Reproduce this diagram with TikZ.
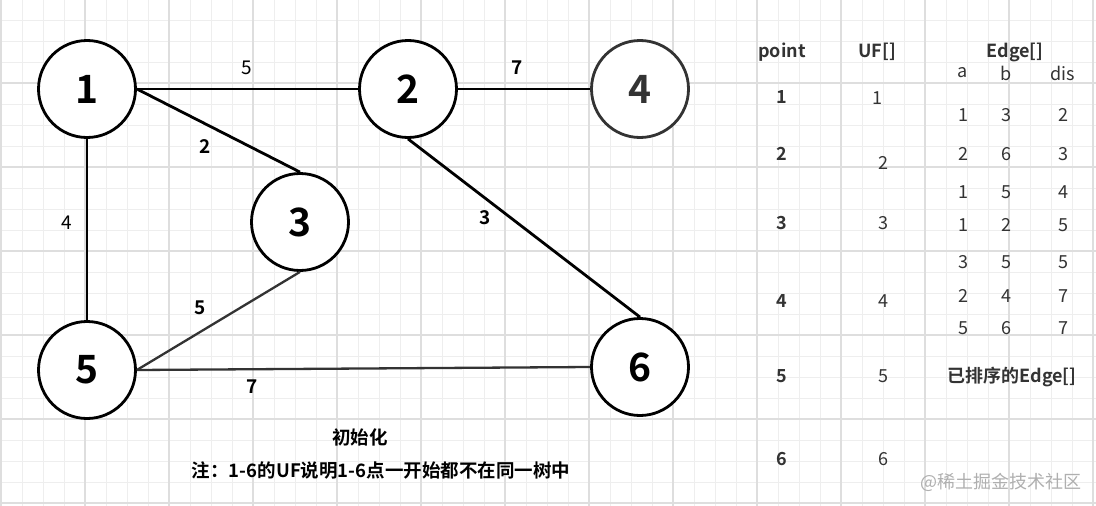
\documentclass[tikz,border=0pt]{standalone}
\usepackage{fontspec}
\setmainfont{Noto Sans CJK SC}[BoldFont={Noto Sans CJK SC Bold}]
\definecolor{gridminor}{RGB}{238,238,238}
\definecolor{gridmajor}{RGB}{222,222,222}
\definecolor{inkgray}{RGB}{51,51,51}
\definecolor{markgray}{RGB}{175,175,175}
\newcommand{\setfs}[1]{\fontsize{#1}{#1}\selectfont}
\usepackage{tikz}

\tikzset{
  vertex/.style={circle, draw, line width=2.8pt, minimum size=97pt, inner sep=0pt,
    fill=white, font=\setfs{39}\bfseries},
  edge/.style={line width=2.8pt},
  wlabel/.style={inner sep=0pt, font=\setfs{19}\bfseries},
  cell/.style={inner sep=0pt, text=inkgray, font=\setfs{18}},
  head/.style={cell, font=\setfs{18}\bfseries},
}

\begin{document}
\begin{tikzpicture}[x=1pt, y=-1pt]
        \fill[white] (0,0) rectangle (1096,506);
        \useasboundingbox (0,0) rectangle (1096,506);

        % Grid paper
        \foreach \x in {1,22,...,1096} \draw[gridminor, line width=1pt] (\x,0) -- (\x,506);
        \foreach \y in {20,41,...,506} \draw[gridminor, line width=1pt] (0,\y) -- (1096,\y);
        \foreach \x in {1,85,...,1096} \draw[gridmajor, line width=1.2pt] (\x,0) -- (\x,506);
        \foreach \y in {83,167,...,506} \draw[gridmajor, line width=1.2pt] (0,\y) -- (1096,\y);

        % Vertices
        \node[vertex] (n1) at (87,89) {1};
        \node[vertex] (n2) at (408,89) {2};
        \node[vertex] (n3) at (300,222) {3};
        \node[vertex, draw=inkgray, text=inkgray] (n4) at (640,89) {4};
        \node[vertex] (n5) at (87,370) {5};
        \node[vertex] (n6) at (640,367) {6};

        % Edges
        \draw[edge] (n1) -- (n2);
        \draw[edge] (n2) -- (n4);
        \draw[edge] (n1.east) -- (n3.north);
        \draw[edge] (n1) -- (n5);
        \draw[edge] (n2.south) -- (n6.north);
        \draw[edge, line width=2.3pt, inkgray] (n3.south) -- (n5.east);
        \draw[edge, line width=2.3pt, inkgray] (n5.east) -- (n6.west);

        % Weights
        \node[wlabel, font=\setfs{19}] (w12) at (247,68) {5};
        \node[wlabel] (w24) at (517,68) {7};
        \node[wlabel] (w13) at (205,147) {2};
        \node[wlabel, font=\setfs{19}] (w15) at (67,223) {4};
        \node[wlabel] (w26) at (485,218) {3};
        \node[wlabel] (w35) at (200,308) {5};
        \node[wlabel] (w56) at (252,387) {7};

        % Caption
        \node[head, text=black, font=\setfs{18.5}\bfseries] (title) at (360,437) {初始化};
        \node[head, text=black, font=\setfs{18.5}\bfseries] (note) at (381,470) {注：1-6的UF说明1-6点一开始都不在同一树中};

        % Table of points and UF
        \node[head] (hpoint) at (782,52) {point};
        \node[head] (huf) at (877,52) {UF[]};
        \node[head] (hedge) at (1015,52) {Edge[]};
        \foreach \p/\yp/\xu/\yu in {1/97/877/98, 2/154/883/163, 3/223/883/223,
                                   4/301/883/301, 5/376/883/376, 6/459/883/459} {
          \node[head] (pt\p) at (782,\yp) {\p};
          \node[cell] (uf\p) at (\xu,\yu) {\p};
        }

        % Sorted edges
        \node[cell] (ha) at (963,73) {a};
        \node[cell] (hb) at (1006,73) {b};
        \node[cell] (hdis) at (1063,73) {dis};
        \foreach \y/\a/\b/\d [count=\i] in {115/1/3/2, 154/2/6/3, 192/1/5/4, 225/1/2/5,
                                           262/3/5/5, 296/2/4/7, 328/5/6/7} {
          \node[cell] (ea\i) at (963,\y) {\a};
          \node[cell] (eb\i) at (1006,\y) {\b};
          \node[cell] (ed\i) at (1063,\y) {\d};
        }
        \node[head] (sorted) at (1012,377) {已排序的Edge[]};

        % Watermark
        \node[cell, text=markgray, font=\setfs{18}] (mark) at (1001,482) {@稀土掘金技术社区};
      \end{tikzpicture}
\end{document}
